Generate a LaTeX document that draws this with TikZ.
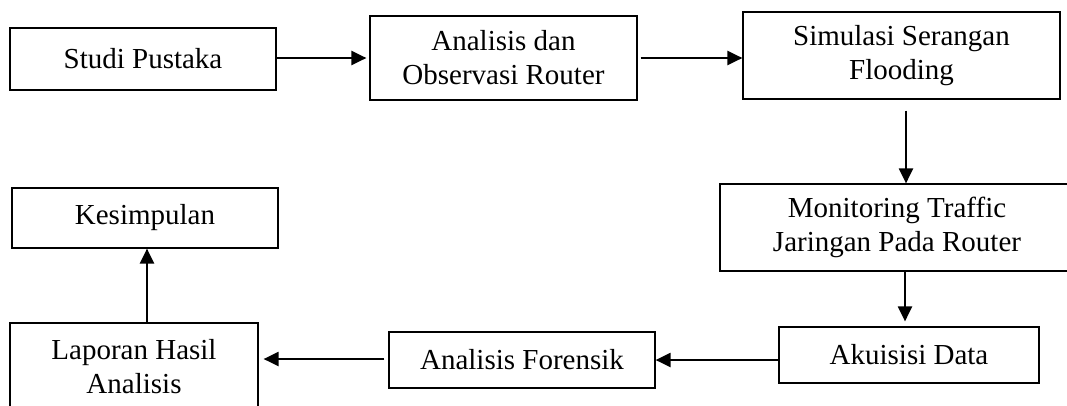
\documentclass[tikz,border=0pt]{standalone}
\usepackage{fontspec}
\setmainfont{Liberation Serif}
\usetikzlibrary{arrows.meta}
\tikzset{
  stepbox/.style={draw=black, line width=1.2pt, fill=white, inner sep=0pt,
    align=center, font=\fontsize{29}{34}\selectfont},
  arr/.style={line width=2.2pt, -{Triangle[length=15pt,width=14pt]}}
}
\begin{document}
\begin{tikzpicture}[x=1pt,y=-1pt]
  \clip (0,0) rectangle (1067,405);
  \fill[white] (0,0) rectangle (1067,405);

  % process steps
  \node[stepbox, minimum width=266pt, minimum height=62pt] (studi) at (143,59) {Studi Pustaka};
  \node[stepbox, minimum width=267pt, minimum height=84pt] (analisis) at (503.5,58) {Analisis dan\\Observasi Router};
  \node[stepbox, minimum width=317pt, minimum height=87pt] (simulasi) at (901.5,55.5) {Simulasi Serangan\\Flooding};
  \node[stepbox, minimum width=354pt, minimum height=87pt] (monitor) at (897,227.5) {Monitoring Traffic\\Jaringan Pada Router};
  \node[stepbox, minimum width=260pt, minimum height=56pt] (akuisisi) at (909,355) {Akuisisi Data};
  \node[stepbox, minimum width=266pt, minimum height=56pt] (forensik) at (522,360) {Analisis Forensik};
  \node[stepbox, minimum width=248pt, minimum height=88pt] (laporan) at (134,367) {Laporan Hasil\\Analisis};
  \node[stepbox, minimum width=266pt, minimum height=60pt] (kesimpulan) at (145,218) {Kesimpulan};

  % flow between steps (yshift is in canvas units: positive moves up)
  \draw[arr, shorten >=3pt] ([yshift=1pt]studi.east) -- ([yshift=1pt]studi.east -| analisis.west);
  \draw[arr] ([xshift=3pt]analisis.east) -- (analisis.east -| simulasi.west);
  \draw[arr] ([xshift=4.5pt,yshift=-11pt]simulasi.south) -- ([xshift=4.5pt]simulasi.south |- monitor.north);
  \draw[arr, shorten >=5pt] ([xshift=8pt]monitor.south) -- ([xshift=8pt]monitor.south |- akuisisi.north);
  \draw[arr] ([yshift=-5pt]akuisisi.west) -- ([yshift=-5pt]akuisisi.west -| forensik.east);
  \draw[arr, shorten <=4pt, shorten >=5pt] ([yshift=1pt]forensik.west) -- ([yshift=1pt]forensik.west -| laporan.east);
  \draw[arr] ([xshift=13pt]laporan.north) -- ([xshift=13pt]laporan.north |- kesimpulan.south);
\end{tikzpicture}
\end{document}
